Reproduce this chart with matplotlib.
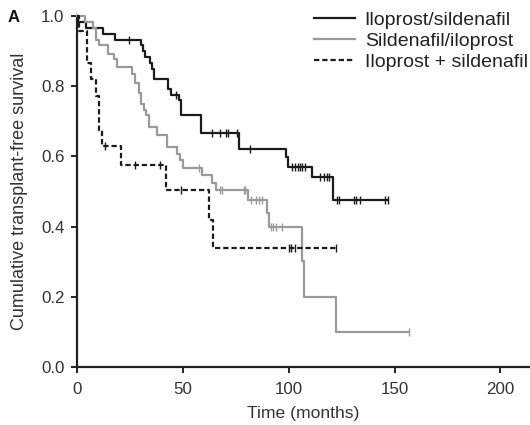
import numpy as np
import matplotlib
matplotlib.use("Agg")
import matplotlib.pyplot as plt

plt.rcParams['font.family'] = ['Liberation Sans', 'DejaVu Sans']

# ---- data ----
labels = ["Iloprost/sildenafil", "Sildenafil/iloprost", "Iloprost + sildenafil"]

ilo_sil_t = [0.4, 4.2, 12.2, 18.0, 30.2, 31.2, 32.3, 34.3, 35.4, 36.6, 42.8, 44.3,
             48.3, 49.0, 58.5, 76.3, 98.6, 99.9, 111.0, 121.0]
ilo_sil_s = [0.983, 0.965, 0.950, 0.933, 0.917, 0.900, 0.884, 0.867, 0.850, 0.820,
             0.791, 0.776, 0.760, 0.717, 0.666, 0.621, 0.598, 0.570, 0.540, 0.475]
ilo_sil_c = [24.8, 46.8, 64.0, 67.6, 70.3, 71.3, 75.6, 81.8, 101.5, 103.1, 104.2,
             105.2, 106.3, 107.8, 114.9, 116.5, 118.1, 119.1, 122.6, 123.6, 131.0,
             131.8, 133.6, 145.6, 146.8]
ilo_sil_end = 147.0

sil_ilo_t = [4.0, 7.7, 9.0, 10.2, 14.5, 17.4, 18.9, 26.0, 27.6, 29.2, 30.0, 31.7,
             32.5, 34.0, 38.0, 42.4, 47.4, 48.7, 50.3, 59.2, 63.7, 65.7, 80.6, 89.8,
             90.6, 106.2, 107.2, 122.5]
sil_ilo_s = [0.983, 0.965, 0.933, 0.917, 0.893, 0.877, 0.855, 0.835, 0.810, 0.780,
             0.750, 0.732, 0.718, 0.685, 0.661, 0.628, 0.608, 0.590, 0.566, 0.547,
             0.525, 0.505, 0.476, 0.438, 0.400, 0.302, 0.200, 0.100]
sil_ilo_c = [57.6, 67.6, 68.4, 78.8, 79.6, 82.2, 84.6, 86.2, 87.6, 91.5, 92.6, 93.8,
             96.8, 157.0]
sil_ilo_end = 157.0

combo_t = [1.0, 4.7, 6.7, 8.9, 10.5, 11.8, 20.7, 42.0, 62.3, 64.3]
combo_s = [0.957, 0.865, 0.820, 0.773, 0.675, 0.630, 0.576, 0.505, 0.419, 0.338]
combo_c = [13.3, 27.6, 39.2, 49.2, 100.1, 101.2, 103.1, 122.3]
combo_end = 122.3

x_ticks = [0, 50, 100, 150, 200]
y_ticks = [0.0, 0.2, 0.4, 0.6, 0.8, 1.0]

# ---- figure ----
fig = plt.figure(figsize=(5.3, 4.25), dpi=100)
ax = fig.add_axes([77 / 530, 58 / 425, 453 / 530, 351 / 425])

black = "#1c1c1c"
grey = "#9a9a9a"


def km(ax, t, s, cens, end, color, ls, label):
    xs = np.concatenate([[0.0], t, [end]])
    ys = np.concatenate([[1.0], s, [s[-1]]])
    ax.step(xs, ys, where="post", color=color, lw=1.6, ls=ls, label=label,
            clip_on=False, zorder=3)
    tt = np.asarray(t)
    cy = [ys[np.searchsorted(tt, c, side="right")] for c in cens]
    ax.plot(cens, cy, ls="none", marker="|", ms=6, mew=1.0, color=color,
            clip_on=False, zorder=4)


km(ax, ilo_sil_t, ilo_sil_s, ilo_sil_c, ilo_sil_end, black, "-", labels[0])
km(ax, sil_ilo_t, sil_ilo_s, sil_ilo_c, sil_ilo_end, grey, "-", labels[1])
km(ax, combo_t, combo_s, combo_c, combo_end, black, (0, (2.4, 1.3)), labels[2])

ax.set_xlim(0, 214)
ax.set_ylim(0, 1.0)
ax.set_xticks(x_ticks)
ax.set_yticks(y_ticks)
ax.set_yticklabels([f"{v:.1f}" for v in y_ticks])
for side in ("top", "right"):
    ax.spines[side].set_visible(False)
for side in ("left", "bottom"):
    ax.spines[side].set_linewidth(1.6)
    ax.spines[side].set_color("#222222")
ax.tick_params(direction="out", length=4.5, width=1.4, labelsize=12.2,
               colors="#222222", labelcolor="#333333", pad=4.5)
ax.tick_params(axis="x", pad=6.5)
ax.set_xlabel("Time (months)", fontsize=12.6, color="#333333", labelpad=6)
ax.set_ylabel("Cumulative transplant-free survival", fontsize=13,
              color="#333333", labelpad=9)

leg = ax.legend(loc="upper right", bbox_to_anchor=(1.012, 1.035), frameon=False,
                fontsize=14, handlelength=2.1, handletextpad=0.5,
                labelspacing=0.17, borderaxespad=0.0)
for txt in leg.get_texts():
    txt.set_color("#222222")

fig.text(8 / 530, 1 - 18 / 425, "A", fontsize=12, fontweight="bold",
         va="center", ha="left", color="#111111")

fig.savefig("out.png", dpi=100)
